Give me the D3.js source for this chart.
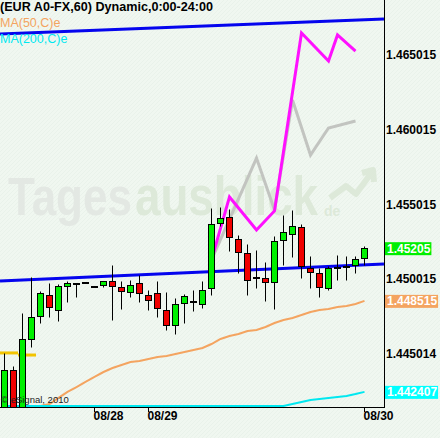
<!DOCTYPE html>
<html><head><meta charset="utf-8">
<script src="https://cdn.jsdelivr.net/npm/d3@7"></script>
<style>html,body{margin:0;padding:0;background:#f0f7f0;}svg{display:block}</style>
</head><body><svg id="c" width="440" height="438"></svg>
<script>
// ---- data (hourly EUR A0-FX candles) ----
const opens  = [1.44052,1.44388,1.44065,1.44596,1.44750,1.44891,1.44790,1.44951,1.44971,1.44978,1.44951,1.44958,1.44985,1.44944,1.44911,1.44971,1.44891,1.44904,1.44790,1.44689,1.44837,1.44850,1.44830,1.44938,1.45374,1.45414,1.45267,1.45173,1.45012,1.45005,1.44978,1.45260,1.45300,1.45347,1.45072,1.45039,1.44938,1.45079,1.45085,1.45092,1.45139];
const highs  = [1.44502,1.44414,1.44770,1.45012,1.44917,1.44971,1.44965,1.44985,1.44971,1.44978,1.44951,1.44985,1.45092,1.44985,1.44992,1.45025,1.44924,1.44985,1.44911,1.44870,1.44897,1.44924,1.44985,1.45475,1.45481,1.45468,1.45294,1.45233,1.45193,1.45112,1.45287,1.45428,1.45461,1.45367,1.45153,1.45072,1.45085,1.45159,1.45153,1.45153,1.45220];
const lows   = [1.44018,1.44018,1.44052,1.44542,1.44703,1.44743,1.44716,1.44844,1.44877,1.44978,1.44951,1.44944,1.44723,1.44797,1.44877,1.44844,1.44790,1.44743,1.44656,1.44629,1.44703,1.44783,1.44804,1.44891,1.45354,1.45186,1.45039,1.44891,1.44938,1.44850,1.44797,1.45092,1.45146,1.45005,1.44938,1.44877,1.44924,1.44992,1.44992,1.45039,1.45092];
const closes = [1.44388,1.44065,1.44596,1.44743,1.44904,1.44810,1.44951,1.44971,1.44971,1.44978,1.44951,1.44985,1.44951,1.44917,1.44958,1.44904,1.44857,1.44804,1.44689,1.44830,1.44884,1.44850,1.44924,1.45367,1.45408,1.45280,1.45179,1.44992,1.45012,1.44978,1.45253,1.45314,1.45354,1.45085,1.45045,1.44944,1.45072,1.45079,1.45085,1.45132,1.45205];
// MA(50,C) - first values lie below the visible range
const ma50  = [1.44106,1.44113,1.44126,1.44146,1.44146,1.44159,1.44200,1.44240,1.44273,1.44307,1.44341,1.44374,1.44401,1.44421,1.44441,1.44448,1.44461,1.44475,1.44482,1.44495,1.44508,1.44522,1.44535,1.44562,1.44596,1.44616,1.44629,1.44649,1.44656,1.44676,1.44703,1.44723,1.44737,1.44757,1.44777,1.44790,1.44797,1.44810,1.44817,1.44830,1.448515];
// MA(200,C) - below the visible range until the last hours
const ma200 = [1.43800,1.43812,1.43824,1.43836,1.43848,1.43860,1.43872,1.43884,1.43896,1.43908,1.43920,1.43932,1.43944,1.43956,1.43968,1.43980,1.43992,1.44004,1.44016,1.44028,1.44040,1.44052,1.44064,1.44076,1.44088,1.44100,1.44110,1.44120,1.44128,1.44136,1.44142,1.44146,1.44159,1.44173,1.44186,1.44193,1.44200,1.44206,1.44213,1.44226,1.442407];
// short yellow level at the left edge
const yellowIdx = [0,1,2,3];
const yellowVal = [1.44502,1.44502,1.44488,1.44488];
// gray and magenta overlay lines (candle index, value)
const grayIdx = [23,28,30,32,34,36,39];
const grayVal = [1.45126,1.45810,1.45461,1.46200,1.45830,1.46012,1.46059];
const magIdx  = [23,25,28,30,33,36,37,39];
const magVal  = [1.45126,1.45549,1.45327,1.45455,1.46649,1.46461,1.46636,1.46528];
// trend lines (anchor at candle 0 and candle 40)
const trendTop = [1.46644,1.46738];
const trendLow = [1.44986,1.45093];
// axis
const yTicks = [1.445014,1.450015,1.455015,1.460015,1.465015];
const yTickLabels = ["1.445014","1.450015","1.455015","1.460015","1.465015"];
const dates = ["08/28","08/29","08/30"];
const dateIdx = [10,16,40];

// ---- layout ----
const W = 440, H = 438, plotW = 384, plotB = 407;
const svg = d3.select("#c");
const x = d3.scaleLinear().domain([0,40]).range([4.5,364.5]);
const y = d3.scaleLinear().domain([1.441392,1.468706]).range([plotB,0]);
const yc = v => Math.min(y(v), plotB - 1);
const font = "Liberation Sans, Arial, sans-serif";

// background with faint hatch
const defs = svg.append("defs");
const pat = defs.append("pattern").attr("id","hatch").attr("width",4).attr("height",4)
  .attr("patternUnits","userSpaceOnUse");
pat.append("rect").attr("width",4).attr("height",4).attr("fill","#f0f7f0");
pat.append("path").attr("d","M0,4 L4,0").attr("stroke","#e9f2ea").attr("stroke-width",1);
svg.append("rect").attr("width",W).attr("height",H).attr("fill","url(#hatch)");
defs.append("clipPath").attr("id","clip").append("rect").attr("x",0).attr("y",0).attr("width",plotW).attr("height",plotB);

// watermark (stretched vertically)
svg.append("g").attr("transform","translate(8,215) scale(1,1.25)")
  .append("text").attr("x",0).attr("y",0).attr("font-family",font).attr("font-weight","bold")
  .attr("font-size",43).attr("textLength",124).attr("lengthAdjust","spacingAndGlyphs")
  .attr("fill","#e3e8e3").text("Tages");
svg.append("g").attr("transform","translate(135,215) scale(1,1.25)")
  .append("text").attr("x",0).attr("y",0).attr("font-family",font).attr("font-weight","bold")
  .attr("font-size",45).attr("textLength",183).attr("lengthAdjust","spacingAndGlyphs")
  .attr("fill","#dde9d9").text("ausblick");
svg.append("text").attr("x",324).attr("y",216).attr("font-family",font)
  .attr("font-weight","bold").attr("font-size",14).attr("fill","#dde9d9").text("de");
svg.append("path").attr("d","M330,198 L346,186 L356,194 L372,172 M362,173 L373,170 L374,182")
  .attr("fill","none").attr("stroke","#dde9d9").attr("stroke-width",6).attr("stroke-linejoin","round");

const g = svg.append("g").attr("clip-path","url(#clip)");

// trend lines (extended across the plot)
function trend(vals, col){
  const sl = (y(vals[1]) - y(vals[0])) / (x(40) - x(0));
  const y0 = y(vals[0]) + sl * (0 - x(0));
  const y1 = y(vals[0]) + sl * (plotW - x(0));
  g.append("line").attr("x1",0).attr("y1",y0).attr("x2",plotW).attr("y2",y1)
    .attr("stroke",col).attr("stroke-width",3);
}
trend(trendTop,"#0505ee");
trend(trendLow,"#0505ee");

// moving averages
const lineGen = d3.line().x((d,i)=>x(i)).y(d=>yc(d));
g.append("path").attr("d",lineGen(ma50)).attr("fill","none").attr("stroke","#f4a460").attr("stroke-width",2);
g.append("path").attr("d",lineGen(ma200)).attr("fill","none").attr("stroke","#00e8f0").attr("stroke-width",2);

// yellow level
yellowIdx.forEach((idx,k)=>{
  g.append("line").attr("x1",x(idx)-4.5).attr("x2",x(idx)+4.5)
   .attr("y1",y(yellowVal[k])).attr("y2",y(yellowVal[k]))
   .attr("stroke","#f2c400").attr("stroke-width",3);
});

// gray and magenta lines
const pl = d3.line().x(d=>x(d[0])).y(d=>y(d[1]));
g.append("path").attr("d",pl(grayIdx.map((v,k)=>[v,grayVal[k]]))).attr("fill","none")
  .attr("stroke","#c2c4c0").attr("stroke-width",3);
g.append("path").attr("d",pl(magIdx.map((v,k)=>[v,magVal[k]]))).attr("fill","none")
  .attr("stroke","#ff10ff").attr("stroke-width",3);

// candles
const rp = v => Math.round(y(v)) + 0.5;
opens.forEach((o,i)=>{
  const c = closes[i], cx = x(i);
  g.append("line").attr("x1",cx).attr("x2",cx).attr("y1",rp(highs[i])).attr("y2",rp(lows[i]))
    .attr("stroke","#000").attr("stroke-width",1);
  const top = rp(Math.max(o,c)), bot = rp(Math.min(o,c));
  const fill = c > o ? "#00f000" : (c < o ? "#f00000" : "#000");
  g.append("rect").attr("x",cx-3).attr("y",top).attr("width",6).attr("height",Math.max(bot-top,1))
    .attr("fill",fill).attr("stroke","#000").attr("stroke-width",1);
});

// frame
svg.append("line").attr("x1",plotW+0.5).attr("x2",plotW+0.5).attr("y1",0).attr("y2",plotB+1).attr("stroke","#000");
svg.append("line").attr("x1",0).attr("x2",plotW+1).attr("y1",plotB+0.5).attr("y2",plotB+0.5).attr("stroke","#000");

// y tick labels
yTicks.forEach((t,k)=>{
  svg.append("text").attr("x",386).attr("y",y(t)+4.5).attr("font-family",font).attr("font-weight","bold")
    .attr("font-size",12).attr("fill","#000").text(yTickLabels[k]);
});
// value boxes
function valBox(v, label, col){
  const t = svg.append("text").attr("x",387).attr("y",y(v)+4.5).attr("font-family",font)
    .attr("font-weight","bold").attr("font-size",12).attr("fill","#fff").text(label);
  const w = t.node().getComputedTextLength();
  svg.insert("rect", () => t.node()).attr("x",385).attr("y",y(v)-6).attr("width",w+3).attr("height",13).attr("fill",col);
}
valBox(closes[closes.length-1], "1.45205", "#00ee00");
valBox(ma50[ma50.length-1], "1.448515", "#f4a460");
valBox(ma200[ma200.length-1], "1.442407", "#00ffff");

// date axis
dates.forEach((d,k)=>{
  const tx = x(dateIdx[k]);
  svg.append("line").attr("x1",tx).attr("x2",tx).attr("y1",plotB).attr("y2",plotB+5).attr("stroke","#000");
  svg.append("text").attr("x",tx-1).attr("y",420).attr("font-family",font).attr("font-weight","bold")
    .attr("font-size",12).attr("fill","#000").text(d);
});

// texts
svg.append("text").attr("x",0).attr("y",11).attr("font-family",font).attr("font-weight","bold")
  .attr("font-size",12.5).attr("textLength",213).attr("lengthAdjust","spacingAndGlyphs")
  .attr("fill","#000").text("(EUR A0-FX,60) Dynamic,0:00-24:00");
svg.append("text").attr("x",0).attr("y",27).attr("font-family",font).attr("font-size",12.5)
  .attr("fill","#f4a460").text("MA(50,C)e");
svg.append("text").attr("x",0).attr("y",43).attr("font-family",font).attr("font-size",12.5)
  .attr("fill","#00e8f0").text("MA(200,C)e");
svg.append("text").attr("x",1).attr("y",403).attr("font-family",font).attr("font-size",9.5)
  .attr("fill","#222").text("© eSignal, 2010");
</script></body></html>
